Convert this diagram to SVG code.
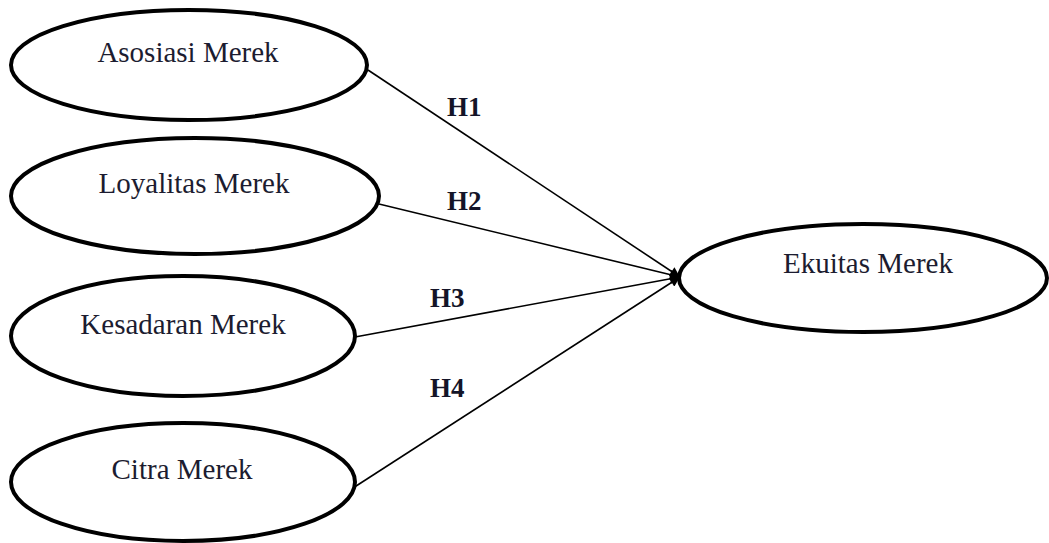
<svg xmlns="http://www.w3.org/2000/svg" width="1049" height="543" viewBox="0 0 1049 543">
  <style>
    .node ellipse { fill: #ffffff; stroke: #000000; stroke-width: 4; }
    .label { font-family: "Liberation Serif", "Times New Roman", serif; font-size: 29px; fill: #1c1c30; text-anchor: middle; }
    .conn line { stroke: #000000; stroke-width: 1.6; marker-end: url(#arrow); }
    .hlabel { font-family: "Liberation Serif", "Times New Roman", serif; font-size: 27px; font-weight: bold; fill: #141428; }
  </style>
  <defs>
    <marker id="arrow" viewBox="0 0 10 10" refX="10" refY="5" markerWidth="11" markerHeight="10" markerUnits="userSpaceOnUse" orient="auto">
      <path d="M0,0 L10,5 L0,10 z" fill="#000000"/>
    </marker>
  </defs>
  <rect width="1049" height="543" fill="#ffffff"/>
  <g id="connectors" class="conn">
    <line x1="368" y1="70" x2="680" y2="277"/>
    <line x1="379" y1="204" x2="680" y2="277"/>
    <line x1="355" y1="337" x2="680" y2="277"/>
    <line x1="353" y1="488" x2="680" y2="277"/>
  </g>
  <g id="connector-labels">
    <text class="hlabel" x="447" y="116">H1</text>
    <text class="hlabel" x="447" y="210">H2</text>
    <text class="hlabel" x="430" y="307">H3</text>
    <text class="hlabel" x="430" y="397">H4</text>
  </g>
  <g id="asosiasi" class="node">
    <ellipse cx="189" cy="65" rx="178" ry="55"/>
    <text class="label" x="188" y="62">Asosiasi Merek</text>
  </g>
  <g id="loyalitas" class="node">
    <ellipse cx="195" cy="196" rx="184" ry="58"/>
    <text class="label" x="194" y="193">Loyalitas Merek</text>
  </g>
  <g id="kesadaran" class="node">
    <ellipse cx="183" cy="336" rx="172" ry="60"/>
    <text class="label" x="183" y="334">Kesadaran Merek</text>
  </g>
  <g id="citra" class="node">
    <ellipse cx="183" cy="482" rx="172" ry="59"/>
    <text class="label" x="182" y="479">Citra Merek</text>
  </g>
  <g id="ekuitas" class="node">
    <ellipse cx="863" cy="278" rx="184" ry="54"/>
    <text class="label" x="868" y="273">Ekuitas Merek</text>
  </g>
</svg>
